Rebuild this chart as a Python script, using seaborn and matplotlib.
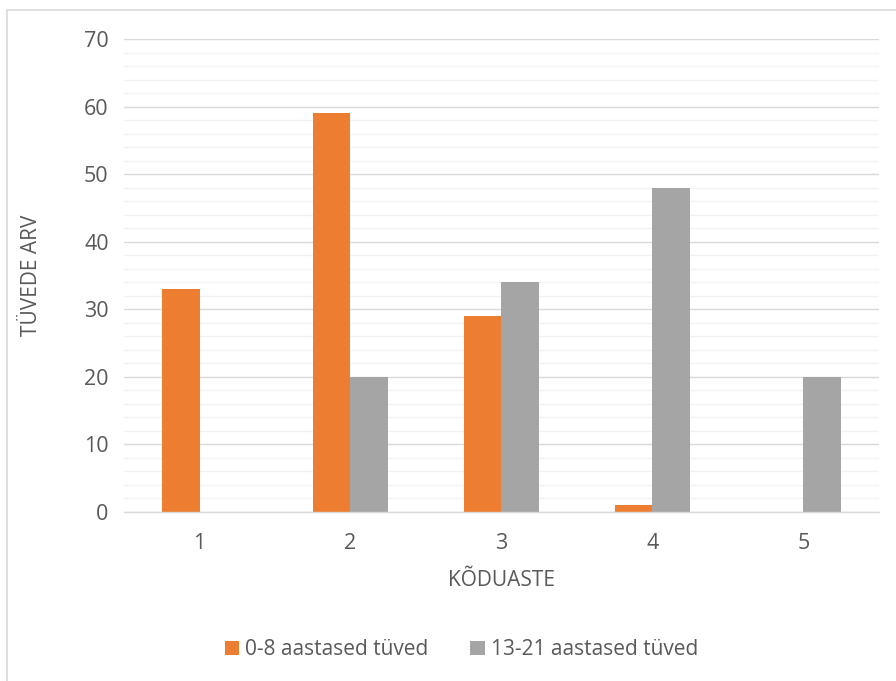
import matplotlib
matplotlib.use("Agg")
import matplotlib.pyplot as plt
import seaborn as sns
import pandas as pd
from matplotlib.patches import Rectangle, Patch
from matplotlib.ticker import MultipleLocator

categories = ["1", "2", "3", "4", "5"]
series_names = ["0-8 aastased tüved", "13-21 aastased tüved"]
young_values = [33, 59, 29, 1, 0]
old_values = [0, 20, 34, 48, 20]
colors = ["#ED7D31", "#A5A5A5"]

df = pd.DataFrame({
    "kodu": categories * 2,
    "arv": young_values + old_values,
    "grupp": [series_names[0]] * 5 + [series_names[1]] * 5,
})

sns.set_style("white")
plt.rcParams["font.family"] = ["Open Sans", "DejaVu Sans"]
text_color = "#595959"

fig = plt.figure(figsize=(8.96, 6.81), dpi=100)
ax = fig.add_axes([0.1384, 0.2482, 0.8426, 0.6945])

sns.barplot(data=df, x="kodu", y="arv", hue="grupp", palette=colors,
            width=0.5, gap=0, ax=ax, legend=False, saturation=1,
            edgecolor="none", linewidth=0)

ax.set_ylim(0, 70)
ax.set_xlim(-0.5, 4.5)
ax.yaxis.set_major_locator(MultipleLocator(10))
ax.yaxis.set_minor_locator(MultipleLocator(2))
ax.grid(which="minor", axis="y", color="#F2F2F2", linewidth=1.0)
ax.grid(which="major", axis="y", color="#D9D9D9", linewidth=1.0)
ax.set_axisbelow(True)
for s in ["top", "right", "left"]:
    ax.spines[s].set_visible(False)
ax.spines["bottom"].set_color("#D9D9D9")
ax.spines["bottom"].set_linewidth(1.0)
ax.tick_params(axis="both", which="both", length=0, colors=text_color, labelsize=15.5)
ax.tick_params(axis="y", pad=11)
ax.tick_params(axis="x", pad=15)

ax.set_xlabel("KÕDUASTE", color=text_color, fontsize=15, labelpad=12)
ax.set_ylabel("TÜVEDE ARV", color=text_color, fontsize=15, labelpad=30)

handles = [Patch(facecolor=c, edgecolor="none") for c in colors]
fig.legend(handles, series_names, loc="center", bbox_to_anchor=(0.515, 0.046),
           ncol=2, frameon=False, fontsize=15, labelcolor=text_color,
           handlelength=0.7, handleheight=0.7, handletextpad=0.3,
           columnspacing=2.0)

# chart area outline
fig.patches.append(Rectangle((7 / 896, -0.1), 2, 1 - 10 / 681 + 0.1,
                             transform=fig.transFigure, fill=False,
                             edgecolor="#D9D9D9", linewidth=1.2))

fig.savefig("out.png", dpi=100)
